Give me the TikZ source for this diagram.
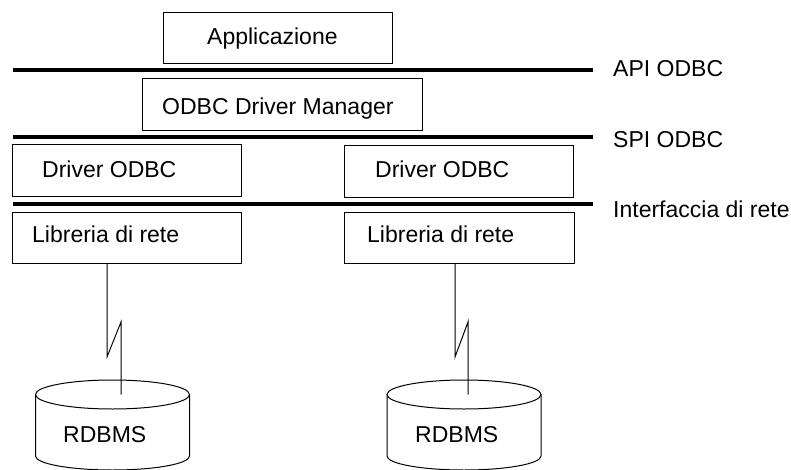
\documentclass[tikz,border=0pt]{standalone}
\usepackage{fontspec}
\setmainfont{Liberation Sans}
\begin{document}
\begin{tikzpicture}[x=1pt,y=-1pt,
  box/.style={draw, line width=1.1pt, inner sep=0pt, anchor=north west},
  lbl/.style={inner sep=0pt, anchor=base west, font=\fontsize{23}{27}\selectfont},
  layer/.style={line width=3.4pt},
  link/.style={line width=1pt},
  cyl/.style={line width=1pt}]
\useasboundingbox (0,0) rectangle (791,470);

% layer separators
\coordinate (apiL) at (13,70);   \coordinate (apiR) at (593,70);
\coordinate (spiL) at (13,137);  \coordinate (spiR) at (593,137);
\coordinate (netL) at (13,204);  \coordinate (netR) at (593,204);
\draw[layer] (apiL) -- (apiR);
\draw[layer] (spiL) -- (spiR);
\draw[layer] (netL) -- (netR);
\node[lbl] (api) at (613,77) {API ODBC};
\node[lbl] (spi) at (613,148) {SPI ODBC};
\node[lbl] (net) at (613,217) {Interfaccia di rete};

% component boxes
\node[box, minimum width=229pt, minimum height=51pt] (app) at (163,12) {};
\node[lbl] (apptxt) at (207,45) {Applicazione};
\node[box, minimum width=280pt, minimum height=52pt] (dm) at (142,78) {};
\node[lbl] (dmtxt) at (162,115) {ODBC Driver Manager};
\node[box, minimum width=229pt, minimum height=52pt] (drvA) at (12,144) {};
\node[lbl] (drvAtxt) at (42,178) {Driver ODBC};
\node[box, minimum width=229pt, minimum height=52pt] (drvB) at (344,145) {};
\node[lbl] (drvBtxt) at (375,178) {Driver ODBC};
\node[box, minimum width=229pt, minimum height=51pt] (libA) at (12,212) {};
\node[lbl] (libAtxt) at (32,242) {Libreria di rete};
\node[box, minimum width=230pt, minimum height=51pt] (libB) at (344,212) {};
\node[lbl] (libBtxt) at (367,242) {Libreria di rete};

% databases
\foreach \n/\cx in {dbA/112.5, dbB/464} {
  \draw[cyl, fill=white] (\cx-77,394.5) -- (\cx-77,456)
    arc[start angle=180, end angle=360, x radius=77, y radius=-14]
    -- (\cx+77,394.5);
  \draw[cyl] (\cx,394.5) ellipse[x radius=77, y radius=14.5];
  \coordinate (\n) at (\cx,394.5);
}
\node[lbl] (dbAtxt) at (63,442) {RDBMS};
\node[lbl] (dbBtxt) at (415,442) {RDBMS};

% network links (lightning symbol)
\coordinate (kA1) at (107,357); \coordinate (kA2) at (121,322);
\coordinate (kB1) at (455,357); \coordinate (kB2) at (468,322);
\draw[link] (libA.south -| kA1) -- (kA1) -- (kA2) -- (kA2 |- dbA);
\draw[link] (libB.south -| kB1) -- (kB1) -- (kB2) -- (kB2 |- dbB);
\end{tikzpicture}
\end{document}
